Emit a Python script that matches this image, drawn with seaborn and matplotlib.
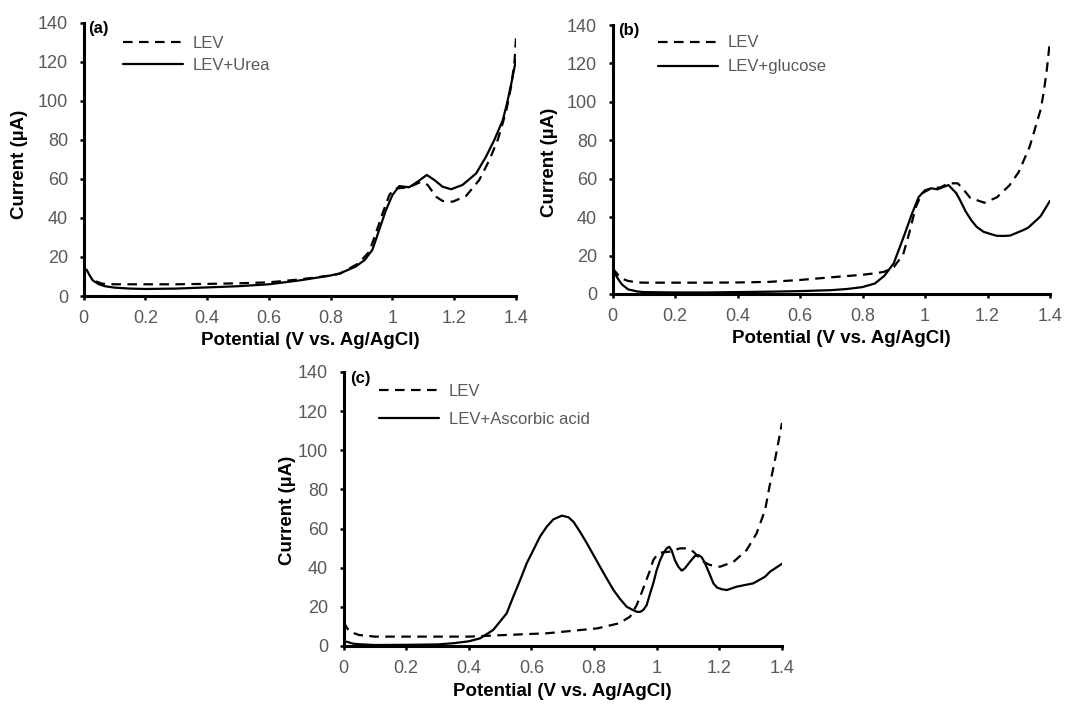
import matplotlib
matplotlib.use("Agg")
import matplotlib.pyplot as plt
import seaborn as sns
import pandas as pd

# ---------------- data ----------------
# Panel (a): LEV vs LEV+Urea
a_lev_v = [0.04, 0.06, 0.1, 0.2, 0.3, 0.4, 0.5, 0.6, 0.7, 0.8, 0.83, 0.89, 0.925, 0.946, 0.968, 0.99,
           1.006, 1.054, 1.092, 1.114, 1.141, 1.162, 1.195, 1.238, 1.281, 1.314, 1.341, 1.357, 1.37,
           1.385, 1.395, 1.4]
a_lev_i = [7.5, 6.3, 6.0, 6.0, 6.0, 6.2, 6.5, 7.0, 8.5, 10.5, 11.4, 16.7, 22.7, 32, 42.3, 51.7,
           55, 55.7, 58.5, 56.9, 50.9, 48.7, 48.3, 51.2, 59.4, 69.7, 80, 88.5, 96,
           108, 120, 132]
a_mix_v = [0.01, 0.02, 0.03, 0.05, 0.07, 0.1, 0.15, 0.2, 0.3, 0.4, 0.5, 0.6, 0.7, 0.8, 0.83, 0.88,
           0.91, 0.935, 0.957, 0.979, 1.0, 1.022, 1.054, 1.081, 1.111, 1.136, 1.162, 1.19, 1.227,
           1.271, 1.303, 1.33, 1.357, 1.37, 1.385, 1.4]
a_mix_i = [13.5, 10.5, 8.0, 6.0, 5.0, 4.3, 3.8, 3.6, 3.8, 4.4, 5.0, 6.0, 8.0, 10.5, 11.6, 15,
           18.4, 23.6, 33.8, 44, 51.7, 56.3, 55.7, 58.5, 62, 59.4, 56, 54.7, 56.9,
           62.8, 71.4, 80, 90, 98, 109, 121]

# Panel (b): LEV vs LEV+glucose
b_lev_v = [0, 0.01, 0.02, 0.03, 0.05, 0.08, 0.1, 0.2, 0.3, 0.4, 0.5, 0.6, 0.7, 0.8, 0.85, 0.87,
           0.9, 0.93, 0.95, 0.97, 0.99, 1.02, 1.05, 1.075, 1.105, 1.125, 1.145, 1.19, 1.23, 1.27,
           1.3, 1.335, 1.357, 1.37, 1.38, 1.39, 1.4]
b_lev_i = [13.4, 11.5, 9.5, 8.0, 6.8, 6.0, 5.9, 5.9, 5.9, 6.0, 6.3, 7.3, 8.7, 10.0, 11.0, 11.6,
           14, 20.5, 32, 45, 52.4, 55, 55.5, 57.6, 57.6, 54, 50, 47.5, 50.3, 56.5,
           63.5, 76.7, 88.8, 96, 105, 117, 132]
b_mix_v = [0, 0.01, 0.02, 0.03, 0.05, 0.08, 0.1, 0.2, 0.3, 0.4, 0.5, 0.6, 0.7, 0.75, 0.8, 0.84,
           0.87, 0.9, 0.93, 0.96, 0.98, 1.0, 1.02, 1.04, 1.075, 1.1, 1.112, 1.13, 1.149, 1.165,
           1.187, 1.21, 1.229, 1.25, 1.272, 1.29, 1.315, 1.33, 1.357, 1.37, 1.4]
b_mix_i = [13.4, 10, 7.3, 5, 2.4, 1.3, 1.0, 0.8, 0.8, 1.0, 1.2, 1.5, 2.0, 2.6, 3.6, 5.5,
           9.5, 16, 29, 42.5, 50.5, 54, 55, 54.5, 56.7, 52.5, 48.9, 43, 38.2, 35,
           32.4, 31.2, 30.3, 30.2, 30.4, 31.6, 33.3, 34.5, 38.5, 40.5, 48.5]

# Panel (c): LEV vs LEV+Ascorbic acid
c_lev_v = [0, 0.01, 0.02, 0.05, 0.1, 0.2, 0.3, 0.4, 0.5, 0.65, 0.81, 0.88, 0.915, 0.936, 0.947,
           0.963, 0.979, 0.989, 1.005, 1.021, 1.042, 1.074, 1.096, 1.117, 1.133, 1.149, 1.17,
           1.202, 1.245, 1.287, 1.319, 1.346, 1.36, 1.38, 1.4]
c_lev_i = [12.4, 9.5, 7.3, 5.6, 4.8, 4.8, 4.8, 4.8, 5.5, 6.5, 9, 11.6, 15, 20.9, 25.2,
           32, 38.8, 43.9, 47.4, 47.9, 48.2, 49.9, 49.9, 48.2, 45.6, 43, 41.4,
           40.5, 43, 49, 57.6, 69.5, 81.4, 97, 114]
c_mix_v = [0.01, 0.03, 0.05, 0.1, 0.2, 0.3, 0.35, 0.4, 0.436, 0.478, 0.521, 0.542, 0.564, 0.585,
           0.606, 0.627, 0.649, 0.670, 0.697, 0.718, 0.734, 0.755, 0.777, 0.798, 0.819, 0.840,
           0.862, 0.883, 0.904, 0.920, 0.936, 0.947, 0.957, 0.968, 0.979, 0.989, 1.0, 1.011,
           1.021, 1.032, 1.04, 1.048, 1.058, 1.069, 1.08, 1.09, 1.106, 1.122, 1.133, 1.144,
           1.154, 1.168, 1.181, 1.193, 1.208, 1.224, 1.255, 1.308, 1.346, 1.362, 1.4]
c_mix_i = [2.2, 1.2, 0.9, 0.5, 0.6, 0.8, 1.4, 2.4, 3.9, 8.2, 16.7, 25.2, 33.7, 42.3,
           49, 55.8, 61, 64.7, 66.6, 65.8, 63.5, 58.4, 52.5, 46.5, 40.5, 34.6,
           28.6, 24, 20.1, 18.7, 17.5, 17.4, 18.4, 20.9, 26.9, 32, 38.8, 43.9,
           47.4, 49.9, 50.7, 48.7, 43.9, 40.5, 38.5, 39.7, 43, 46, 46.5, 45.3,
           42.3, 37.1, 32, 29.8, 29, 28.6, 30.3, 32, 35.4, 38, 42]

x_ticks = [0, 0.2, 0.4, 0.6, 0.8, 1.0, 1.2, 1.4]
x_tick_labels = ["0", "0.2", "0.4", "0.6", "0.8", "1", "1.2", "1.4"]
y_ticks = [0, 20, 40, 60, 80, 100, 120, 140]
y_tick_labels = ["0", "20", "40", "60", "80", "100", "120", "140"]

panels = [
    dict(tag="(a)", lev=(a_lev_v, a_lev_i), mix=(a_mix_v, a_mix_i), mix_label="LEV+Urea",
         rect=[83.5, 22.7, 516.0, 296.0], leg=(0.091, 0.953, 0.42), tag_pos=(0.011, 0.962),
         xlab=(0.524, -0.132), ylab=(-0.129, 0.483)),
    dict(tag="(b)", lev=(b_lev_v, b_lev_i), mix=(b_mix_v, b_mix_i), mix_label="LEV+glucose",
         rect=[612.5, 25.0, 1050.0, 294.0], leg=(0.103, 0.961, 0.54), tag_pos=(0.012, 0.963),
         xlab=(0.523, -0.132), ylab=(-0.124, 0.491)),
    dict(tag="(c)", lev=(c_lev_v, c_lev_i), mix=(c_mix_v, c_mix_i), mix_label="LEV+Ascorbic acid",
         rect=[343.5, 372.0, 782.0, 646.0], leg=(0.080, 0.958, 0.78), tag_pos=(0.016, 0.960),
         xlab=(0.5, -0.135), ylab=(-0.108, 0.496)),
]

# ---------------- style ----------------
sns.set_style("ticks")
plt.rcParams["font.family"] = ["Liberation Sans", "DejaVu Sans"]

W, H = 1065, 706
fig = plt.figure(figsize=(W / 100, H / 100), dpi=100)

GRAY = "#595959"
DASH = (4.3, 2.9)

for p in panels:
    l, t, r, b = p["rect"]
    ax = fig.add_axes([l / W, 1 - b / H, (r - l) / W, (b - t) / H])

    df_lev = pd.DataFrame({"V": p["lev"][0], "I": p["lev"][1]})
    df_mix = pd.DataFrame({"V": p["mix"][0], "I": p["mix"][1]})
    sns.lineplot(data=df_lev, x="V", y="I", ax=ax, color="black", lw=1.6,
                 estimator=None, sort=False, label="LEV")
    sns.lineplot(data=df_mix, x="V", y="I", ax=ax, color="black", lw=1.6,
                 estimator=None, sort=False, label=p["mix_label"])
    ax.lines[0].set_dashes(DASH)
    for ln in ax.lines:
        ln.set_solid_joinstyle("round")
        ln.set_dash_joinstyle("round")

    ax.set_xlim(0, 1.4)
    ax.set_ylim(0, 140)
    ax.set_xticks(x_ticks)
    ax.set_xticklabels(x_tick_labels)
    ax.set_yticks(y_ticks)
    ax.set_yticklabels(y_tick_labels)
    ax.tick_params(axis="both", direction="out", length=3, width=1.8, colors="black",
                   labelcolor=GRAY, labelsize=13)
    ax.tick_params(axis="x", pad=7)
    ax.tick_params(axis="y", pad=8)
    for s in ["top", "right"]:
        ax.spines[s].set_visible(False)
    for s in ["left", "bottom"]:
        ax.spines[s].set_linewidth(2.2)
        ax.spines[s].set_color("black")

    ax.set_xlabel("Potential (V vs. Ag/AgCl)", fontsize=13.5, fontweight="bold", color="black")
    ax.set_ylabel("Current (\u00b5A)", fontsize=13.5, fontweight="bold", color="black")
    ax.xaxis.set_label_coords(*p["xlab"])
    ax.yaxis.set_label_coords(*p["ylab"])

    lx, ly, lsp = p["leg"]
    leg = ax.legend(loc="upper left", bbox_to_anchor=(lx, ly), frameon=False,
                    borderpad=0, borderaxespad=0, handlelength=3.6, handletextpad=0.6,
                    labelspacing=lsp, fontsize=12)
    for txt in leg.get_texts():
        txt.set_color(GRAY)

    ax.text(p["tag_pos"][0], p["tag_pos"][1], p["tag"], transform=ax.transAxes,
            fontsize=12, fontweight="bold", va="baseline", ha="left", color="black")

fig.savefig("out.png", dpi=100)
